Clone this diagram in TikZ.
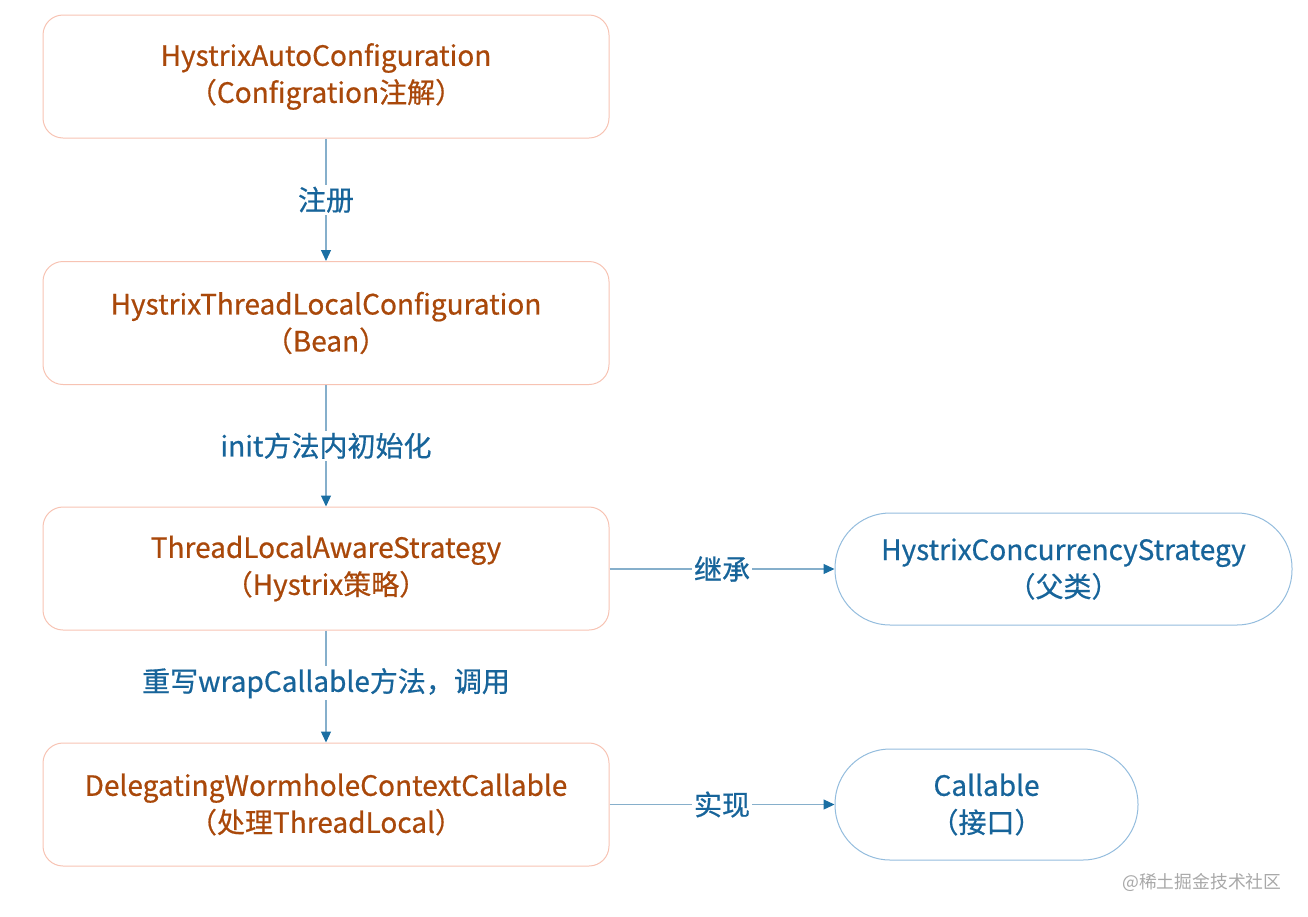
\documentclass[tikz,border=0pt]{standalone}
\usepackage{fontspec}
\setmainfont{Noto Sans CJK SC}
\newfontfamily\medfont{Noto Sans CJK SC}[FakeBold=0.6]
\usetikzlibrary{arrows.meta}
\definecolor{boxline}{HTML}{F7C3B3}
\definecolor{boxtext}{HTML}{A9480A}
\definecolor{bluetext}{HTML}{17649A}
\definecolor{arrline}{HTML}{86AFCB}
\definecolor{arrtip}{HTML}{1B6FA3}
\definecolor{pillline}{HTML}{93BCDD}
\definecolor{wm}{HTML}{A8A8A8}
\tikzset{
  box/.style={draw=boxline, line width=1pt, rounded corners=20pt, minimum width=566pt, minimum height=123pt, align=center, text=boxtext, font=\medfont\fontsize{28}{37}\selectfont, inner sep=0pt},
  pill/.style={draw=pillline, line width=1pt, rounded corners=55pt, align=center, text=bluetext, font=\medfont\fontsize{28}{37}\selectfont, inner sep=0pt},
  conn/.style={draw=arrline, line width=1.2pt, -{Triangle[length=11pt,width=10pt,color=arrtip]}},
  lbl/.style={fill=white, text=bluetext, font=\medfont\fontsize{28}{30}\selectfont, inner sep=2pt}
}
\begin{document}
\begin{tikzpicture}[x=1pt,y=-1pt]
\useasboundingbox (0,0) rectangle (1308,916);
\node[box] (a) at (326,76.5) {HystrixAutoConfiguration\\（Configration注解）};
\node[box] (b) at (326,323) {HystrixThreadLocalConfiguration\\（Bean）};
\node[box] (c) at (326,568.5) {ThreadLocalAwareStrategy\\（Hystrix策略）};
\node[box] (d) at (326,804.5) {DelegatingWormholeContextCallable\\（处理ThreadLocal）};
\node[pill, minimum width=457pt, minimum height=112pt] (e) at (1063.5,569) {HystrixConcurrencyStrategy\\（父类）};
\node[pill, minimum width=303pt, minimum height=111pt] (f) at (986.5,804.5) {Callable\\（接口）};
\draw[conn] (a) -- node[lbl] {注册} (b);
\draw[conn] (b) -- node[lbl] {init方法内初始化} (c);
\draw[conn] (c) -- node[lbl, pos=0.47] {重写wrapCallable方法，调用} (d);
\draw[conn] (c.east |- e.west) -- node[lbl, pos=0.5] {继承} (e.west);
\draw[conn] (d.east) -- node[lbl] {实现} (f.west);
\node[text=wm, font=\fontsize{17.8}{20}\selectfont, anchor=east] (w) at (1285,882) {@稀土掘金技术社区};
\end{tikzpicture}
\end{document}
